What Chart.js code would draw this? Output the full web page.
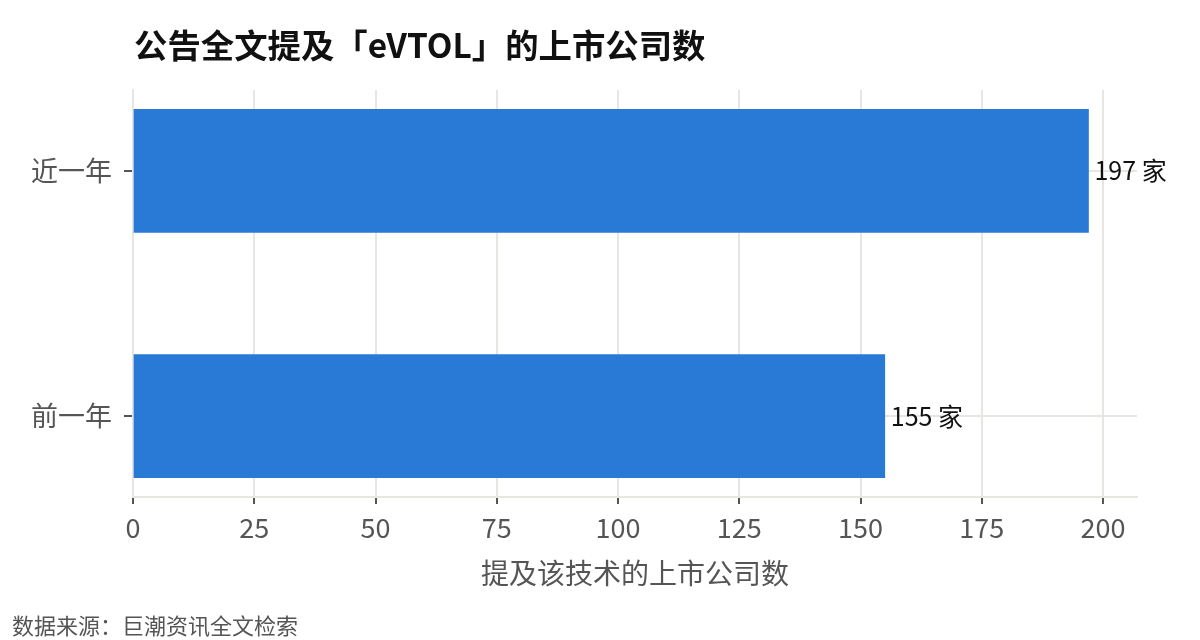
<!DOCTYPE html>
<html><head><meta charset="utf-8">
<script src="https://cdn.jsdelivr.net/npm/chart.js@4"></script>
<style>html,body{margin:0;padding:0;background:#fff}#wrap{width:1200px;height:640px}</style>
</head><body><div id="wrap"><canvas id="c" width="1200" height="640"></canvas></div>
<script>
const categories = ['近一年', '前一年'];
const values = [197, 155];
const valueSuffix = ' 家';
const xTickValues = [0, 25, 50, 75, 100, 125, 150, 175, 200];
const chartTitle = '公告全文提及「eVTOL」的上市公司数';
const xAxisTitle = '提及该技术的上市公司数';
const sourceNote = '数据来源：巨潮资讯全文检索';
const FONT = '"Noto Sans CJK SC", "Noto Sans", sans-serif';

const textPlugin = {
  id: 'texts',
  afterDraw(chart) {
    const ctx = chart.ctx;
    const ca = chart.chartArea;
    ctx.save();
    ctx.fillStyle = '#111';
    ctx.font = 'bold 33.4px ' + FONT;
    ctx.textBaseline = 'middle';
    ctx.textAlign = 'left';
    ctx.fillText(chartTitle, ca.left + 1, 45);
    ctx.fillStyle = '#555';
    ctx.font = '22px ' + FONT;
    ctx.fillText(sourceNote, 12, 626);
    const meta = chart.getDatasetMeta(0);
    ctx.fillStyle = '#111';
    ctx.font = '25px ' + FONT;
    meta.data.forEach((bar, i) => {
      ctx.fillText(values[i] + valueSuffix, bar.x + 6, bar.y);
    });
    ctx.restore();
  }
};

new Chart(document.getElementById('c'), {
  type: 'bar',
  data: {
    datasets: [{
      data: values.map((v, i) => ({ x: v, y: i })),
      backgroundColor: '#2979d6',
      borderWidth: 0,
      barThickness: 123
    }]
  },
  options: {
    indexAxis: 'y',
    responsive: false,
    animation: false,
    layout: { padding: { top: 90, right: 63, left: 0, bottom: 0 } },
    plugins: { legend: { display: false }, tooltip: { enabled: false }, title: { display: false } },
    scales: {
      x: {
        type: 'linear',
        min: 0, max: 207,
        afterBuildTicks(s) { s.ticks = xTickValues.map(v => ({ value: v })); },
        afterFit(s) { s.height = 143; },
        ticks: { color: '#555', font: { family: FONT, size: 27 }, padding: 8 },
        grid: { color: '#e7e6e0', lineWidth: 2, tickColor: '#555', tickLength: 7 },
        border: { color: '#e7e6e0', width: 2 },
        title: { display: true, text: xAxisTitle, color: '#555', font: { family: FONT, size: 28 }, padding: { top: 0, bottom: 50 } }
      },
      y: {
        type: 'linear',
        reverse: true,
        offset: false,
        min: -0.33, max: 1.33,
        afterBuildTicks(s) { s.ticks = categories.map((c, i) => ({ value: i })); },
        afterFit(s) { s.width = 133; },
        ticks: { color: '#555', font: { family: FONT, size: 27 }, padding: 12, callback: (v) => categories[v] },
        grid: { offset: false, color: '#e7e6e0', lineWidth: 2, tickColor: '#555', tickLength: 9 },
        border: { color: '#e7e6e0', width: 2 }
      }
    }
  },
  plugins: [textPlugin]
});
</script></body></html>
